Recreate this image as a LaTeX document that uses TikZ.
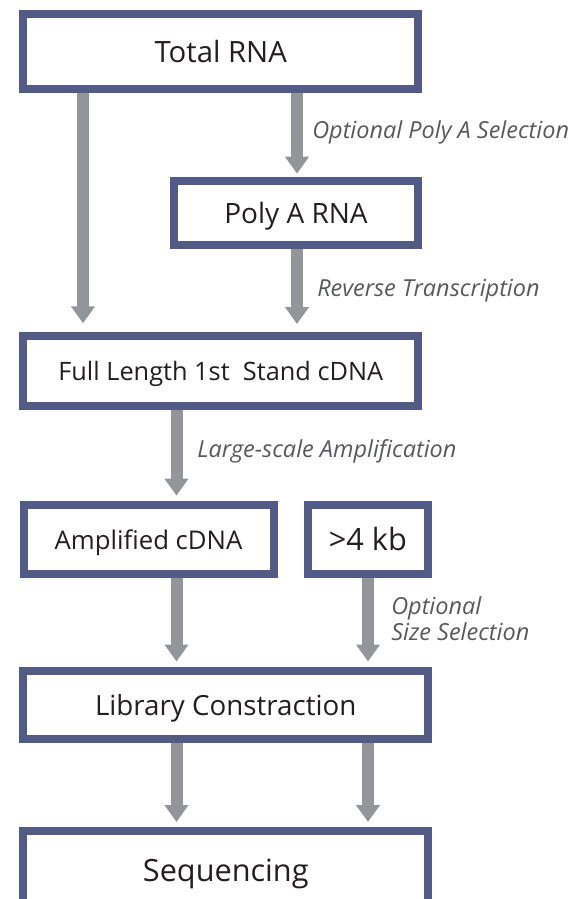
\documentclass[tikz,border=0pt]{standalone}
\usepackage{fontspec}
\setmainfont{Open Sans}
\usepackage{tikz}
\usetikzlibrary{arrows.meta,positioning}
\definecolor{boxblue}{HTML}{525A86}
\definecolor{flowgray}{HTML}{939598}
\definecolor{notegray}{HTML}{58595B}
\definecolor{ink}{HTML}{231F20}

\begin{document}
\begin{tikzpicture}[x=0.75pt,y=-0.75pt,
  stage/.style={draw=boxblue,line width=6pt,fill=white,text=ink,inner sep=0pt,text depth=0pt},
  flow/.style={draw=flowgray,line width=9pt,-{Triangle[width=17.25pt,length=12.75pt]},shorten >=3.75pt},
  note/.style={text=notegray,font=\itshape\fontsize{17.6}{19.3}\selectfont,anchor=base west,inner sep=0pt}]
\useasboundingbox (0,0) rectangle (585,899);
\clip (0,0) rectangle (585,899);
\coordinate (c1) at (83,0);
\coordinate (c2) at (176.5,0);
\coordinate (c3) at (297,0);
\coordinate (c4) at (368,0);
\node[stage,minimum width=295.9pt,minimum height=55.9pt,font=\fontsize{22}{26}\selectfont] (total) at (220.75,51.75) {Total RNA};
\node[stage,minimum width=183pt,minimum height=48pt,font=\fontsize{21}{25}\selectfont] (polya) at (296,213) {Poly A RNA};
\node[stage,minimum width=295.9pt,minimum height=52.5pt,font=\fontsize{19}{23}\selectfont] (full) at (220.75,371) {Full Length 1st\ \ Stand cDNA};
\node[stage,minimum width=187.5pt,minimum height=52pt,font=\fontsize{19.3}{23}\selectfont] (amp) at (148.5,539.3) {Amplified cDNA};
\node[stage,minimum width=90.2pt,minimum height=52pt,font=\fontsize{23}{27}\selectfont] (kb) at (367.85,539.3) {>4 kb};
\node[stage,minimum width=303.4pt,minimum height=51pt,font=\fontsize{20.8}{24}\selectfont] (lib) at (225.75,704.5) {Library Constraction};
\node[stage,minimum width=303.4pt,minimum height=58.5pt,font=\fontsize{23}{27}\selectfont] (seq) at (225.75,870) {Sequencing};
\draw[flow,shorten >=6.5pt] (total.south -| c1) -- (full.north -| c1);
\draw[flow,shorten >=2.5pt] (total.south -| c3) -- (polya.north -| c3);
\draw[flow,shorten >=6pt] (polya.south -| c3) -- (full.north -| c3);
\draw[flow] (full.south -| c2) -- (amp.north -| c2);
\draw[flow] (amp.south -| c2) -- (lib.north -| c2);
\draw[flow] (kb.south -| c4) -- (lib.north -| c4);
\draw[flow] (lib.south -| c2) -- (seq.north -| c2);
\draw[flow] (lib.south -| c4) -- (seq.north -| c4);
\node[note] (polysel) at (312,138) {Optional Poly A Selection};
\node[note] (revtrans) at (317,296) {Reverse Transcription};
\node[note] (ampl) at (197,457.7) {Large-scale Amplification};
\node[note,align=left] (sizesel) at (391,640.7) {Optional\\Size Selection};
\end{tikzpicture}
\end{document}
